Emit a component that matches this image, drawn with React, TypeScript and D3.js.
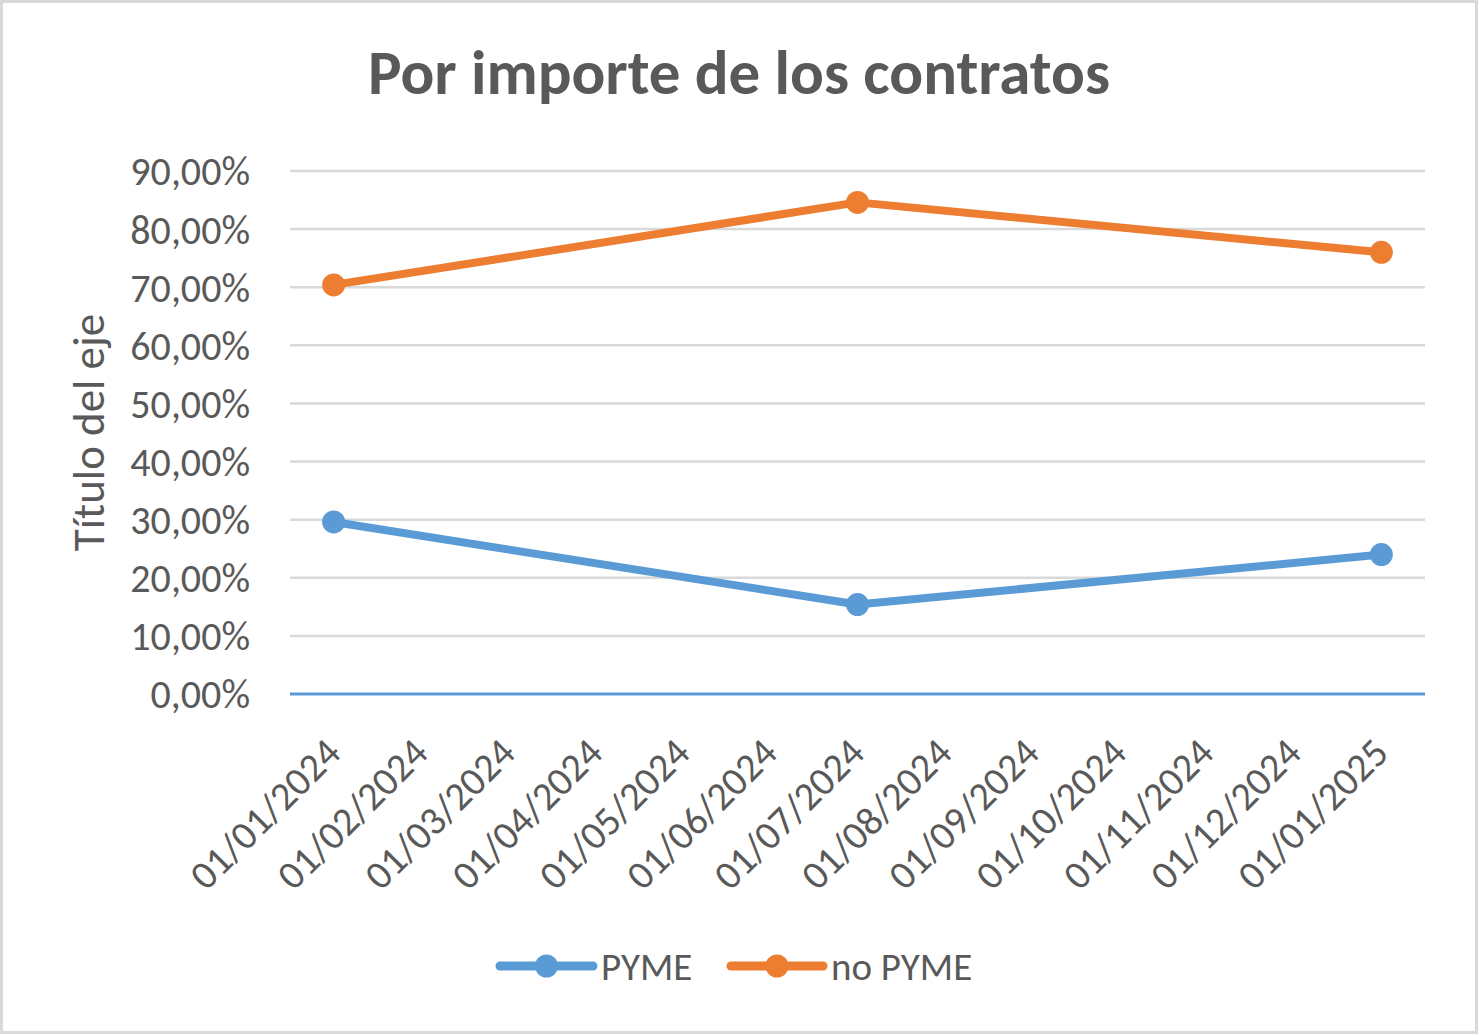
import React, { useEffect, useRef } from 'react';
import * as d3 from 'd3';

const months = [
  '01/01/2024', '01/02/2024', '01/03/2024', '01/04/2024', '01/05/2024', '01/06/2024',
  '01/07/2024', '01/08/2024', '01/09/2024', '01/10/2024', '01/11/2024', '01/12/2024',
  '01/01/2025'
];
const pointDates = ['01/01/2024', '01/07/2024', '01/01/2025'];
const pymeValues = [0.296, 0.154, 0.24];
const noPymeValues = [0.704, 0.846, 0.76];
const yTicks = [0, 0.1, 0.2, 0.3, 0.4, 0.5, 0.6, 0.7, 0.8, 0.9];
const seriesNames = ['PYME', 'no PYME'];

const W = 1478;
const H = 1034;
const FONT = 'Carlito, Calibri, Lato, sans-serif';
const TEXT = '#595959';
const colors: { [key: string]: string } = { 'PYME': '#5B9BD5', 'no PYME': '#ED7D31' };

const fmt = (v: number) => (v * 100).toFixed(2).replace('.', ',') + '%';

const App: React.FC = () => {
  const svgRef = useRef<SVGSVGElement>(null);

  useEffect(() => {
    if (!svgRef.current) return;
    const svg = d3.select(svgRef.current);
    svg.selectAll('*').remove();

    const plot = { left: 290, right: 1425, top: 171, bottom: 694 };

    const x = d3.scalePoint<string>().domain(months).range([plot.left, plot.right]).padding(0.5);
    const y = d3.scaleLinear().domain([0, 0.9]).range([plot.bottom, plot.top]);

    // background + border
    svg.append('rect')
      .attr('x', 1.5).attr('y', 1.5)
      .attr('width', W - 3).attr('height', H - 3)
      .attr('fill', '#fff')
      .attr('stroke', '#D9D9D9')
      .attr('stroke-width', 3);

    // title
    svg.append('text')
      .attr('x', W / 2)
      .attr('y', 94)
      .attr('text-anchor', 'middle')
      .style('font-family', FONT)
      .style('font-size', '63px')
      .style('font-weight', 'bold')
      .attr('fill', TEXT)
      .text('Por importe de los contratos');

    // gridlines
    svg.append('g')
      .selectAll('line')
      .data(yTicks.filter(t => t > 0))
      .enter()
      .append('line')
      .attr('x1', plot.left).attr('x2', plot.right)
      .attr('y1', d => y(d)).attr('y2', d => y(d))
      .attr('stroke', '#D9D9D9')
      .attr('stroke-width', 2.5);

    // baseline axis
    svg.append('line')
      .attr('x1', plot.left).attr('x2', plot.right)
      .attr('y1', y(0)).attr('y2', y(0))
      .attr('stroke', '#5B9BD5')
      .attr('stroke-width', 3);

    // y tick labels
    svg.append('g')
      .selectAll('text')
      .data(yTicks)
      .enter()
      .append('text')
      .attr('x', 250)
      .attr('y', d => y(d))
      .attr('dy', '0.36em')
      .attr('text-anchor', 'end')
      .style('font-family', FONT)
      .style('font-size', '40px')
      .attr('fill', TEXT)
      .text(d => fmt(d));

    // y axis title
    svg.append('text')
      .attr('transform', `translate(104,${(plot.top + plot.bottom) / 2}) rotate(-90)`)
      .attr('text-anchor', 'middle')
      .style('font-family', FONT)
      .style('font-size', '45px')
      .attr('fill', TEXT)
      .text('Título del eje');

    // x labels
    svg.append('g')
      .selectAll('text')
      .data(months)
      .enter()
      .append('text')
      .attr('transform', d => `translate(${(x(d) as number) - 1},${plot.bottom + 51}) rotate(-45)`)
      .attr('dy', '0.36em')
      .attr('text-anchor', 'end')
      .style('font-family', FONT)
      .style('font-size', '40px')
      .attr('fill', TEXT)
      .text(d => d);

    // series
    const series = [
      { name: 'PYME', values: pymeValues },
      { name: 'no PYME', values: noPymeValues }
    ];

    const line = d3.line<number>()
      .x((_, i) => x(pointDates[i]) as number)
      .y(d => y(d));

    series.forEach(s => {
      svg.append('path')
        .datum(s.values)
        .attr('d', line)
        .attr('fill', 'none')
        .attr('stroke', colors[s.name])
        .attr('stroke-width', 8)
        .attr('stroke-linecap', 'round')
        .attr('stroke-linejoin', 'round');

      svg.append('g')
        .selectAll('circle')
        .data(s.values)
        .enter()
        .append('circle')
        .attr('cx', (_, i) => x(pointDates[i]) as number)
        .attr('cy', d => y(d))
        .attr('r', 11.5)
        .attr('fill', colors[s.name]);
    });

    // legend
    const legendX = [500, 731];
    const legendW = [93, 92];
    seriesNames.forEach((name, i) => {
      const g = svg.append('g').attr('transform', `translate(${legendX[i]},966)`);
      g.append('line')
        .attr('x1', 0).attr('x2', legendW[i])
        .attr('y1', 0).attr('y2', 0)
        .attr('stroke', colors[name])
        .attr('stroke-width', 9)
        .attr('stroke-linecap', 'round');
      g.append('circle')
        .attr('cx', legendW[i] / 2)
        .attr('cy', 0)
        .attr('r', 11.5)
        .attr('fill', colors[name]);
      g.append('text')
        .attr('x', legendW[i] + 8)
        .attr('y', 0)
        .attr('dy', '0.36em')
        .style('font-family', FONT)
        .style('font-size', '39px')
        .attr('fill', TEXT)
        .text(name);
    });
  }, []);

  return (
    <svg
      ref={svgRef}
      width={W}
      height={H}
      style={{ position: 'absolute', left: 0, top: 0 }}
    />
  );
};

export default App;
